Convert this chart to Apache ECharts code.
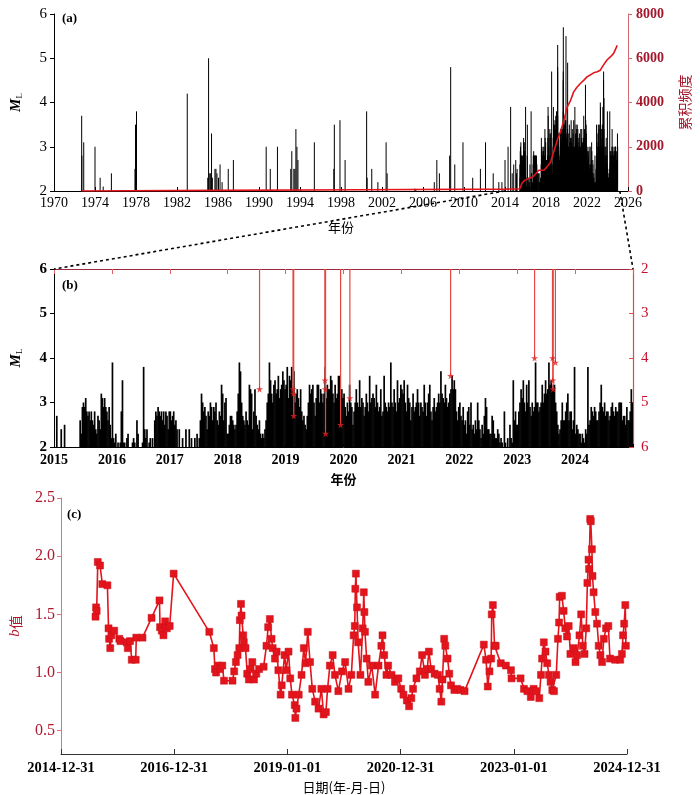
<!DOCTYPE html>
<html><head><meta charset="utf-8">
<script src="https://cdn.jsdelivr.net/npm/echarts@6/dist/echarts.min.js"></script>
<style>html,body{margin:0;padding:0;background:#fff}#c{width:700px;height:795px}</style>
</head><body><div id="c"></div>
<script>
// ---------- data ----------
const preYears=[1972.7,1972.72,1972.9,1974.0,1974.5,1974.8,1975.6,1977.9,1977.95,1978.0,1978.05,1983.0,1985.0,1985.08,1985.2,1985.25,1985.37,1985.45,1985.7,1985.8,1985.9,1986.05,1986.2,1986.4,1987.0,1987.5,1990.7,1991.1,1991.8,1993.1,1993.2,1993.4,1993.5,1993.6,1993.7,1993.8,1995.4,1997.3,1997.35,1997.9,1998.4,2000.5,2000.55,2001.0,2001.6,2002.4,2002.5,2005.2,2005.3,2007.1,2007.35,2007.6,2008.6,2008.7,2009.1,2009.9,2010.85,2011.6,2012.1,2012.85,2013.4,2013.7,2014.0,2014.3,2014.55,2014.7,2014.85];
const preMags=[3.7,2.8,3.1,3.0,2.3,2.1,2.4,2.5,3.5,2.4,3.8,4.2,2.3,5.0,2.4,2.4,3.3,2.3,2.5,2.5,2.4,2.3,2.6,2.2,2.5,2.7,3.0,2.5,3.0,2.5,2.9,2.5,2.5,3.4,3.0,2.7,3.1,2.5,3.5,3.6,2.7,3.8,2.3,2.5,2.2,3.1,2.4,2.05,2.05,2.2,2.7,2.4,2.8,4.8,2.6,3.1,2.3,2.5,3.1,2.4,2.2,2.2,2.7,3.0,3.9,2.4,2.6];

// weekly maximum magnitude (M<4), 52 weeks per year
const weekYears=[2015,2016,2017,2018,2019,2020,2021,2022,2023,2024];
const m2015=[null,null,2.7,null,null,null,2.4,null,null,2.5,null,null,null,null,null,null,null,null,null,null,null,null,null,2.6,2.3,2.9,3.0,2.9,3.1,2.8,2.7,2.8,2.6,2.8,2.6,2.5,2.8,2.4,2.3,2.7,2.6,2.4,3.2,3.1,2.9,3.1,2.9,2.8,2.6,2.9,2.5,2.2];
const m2016=[3.9,2.2,2.1,2.3,null,2.1,null,2.1,2.8,3.5,2.1,2.1,null,2.2,2.3,null,null,null,2.1,2.2,2.1,null,2.6,2.3,null,null,null,2.1,3.8,2.4,2.2,2.4,null,2.1,2.2,null,2.2,null,2.6,2.8,2.7,2.9,2.8,2.7,2.8,2.6,2.8,2.5,2.8,2.7,2.4,2.8];
const m2017=[2.8,2.6,2.7,2.8,2.5,2.6,2.4,null,2.4,null,null,2.2,null,null,2.4,null,null,2.4,null,2.2,null,null,2.2,null,2.3,null,2.2,2.6,3.2,3.0,2.8,2.9,2.7,2.4,2.8,2.7,3.0,2.9,2.6,2.9,2.8,3.0,2.6,2.5,2.8,2.7,3.4,3.2,2.6,3.0,3.1,2.3];
const m2018=[2.3,2.5,2.7,2.7,2.6,2.5,2.4,2.5,2.8,3.2,3.9,3.7,3.0,2.7,2.6,2.5,2.8,2.6,2.5,3.4,3.3,3.2,2.4,2.8,3.3,2.7,2.5,2.4,2.6,2.3,2.2,2.3,2.2,2.4,2.6,3.0,3.2,3.9,3.5,3.2,3.0,3.4,3.5,3.2,3.3,3.6,3.1,3.3,3.4,3.7,3.5,3.3];
const m2019=[3.4,3.8,3.1,3.6,3.5,3.8,3.3,3.7,3.0,3.2,3.3,3.1,2.9,3.3,2.8,2.6,2.7,2.5,2.4,2.7,3.0,3.4,3.2,3.3,3.4,3.0,2.7,3.1,3.4,3.4,3.0,3.3,3.2,3.0,3.2,3.8,3.1,3.4,3.3,3.3,3.6,3.5,3.2,3.0,3.4,3.1,3.2,3.6,3.6,3.0,3.3,3.1];
const m2020=[3.2,2.9,2.7,3.0,2.8,3.4,3.0,2.9,2.5,2.8,3.0,3.3,3.0,2.9,3.5,2.9,3.1,3.0,2.7,2.9,3.2,3.0,2.8,3.6,3.0,3.1,3.2,3.1,2.9,3.4,3.0,2.8,2.9,3.3,2.7,2.8,3.6,3.0,2.9,2.8,3.0,2.9,3.9,3.0,2.9,3.3,3.0,2.8,3.5,3.0,3.1,3.4];
const m2021=[3.3,3.2,3.5,3.0,2.8,3.4,3.1,3.0,2.6,2.9,3.2,2.8,2.9,3.0,3.3,3.0,2.7,3.0,2.9,2.8,3.4,3.0,2.7,3.0,3.2,3.4,2.8,2.6,2.9,3.1,2.8,2.9,3.0,3.2,3.0,3.7,3.2,3.1,3.0,3.4,3.1,2.9,3.0,3.2,3.3,3.6,3.3,3.5,3.3,2.8,2.6,2.9];
const m2022=[3.0,2.7,2.6,2.9,2.5,2.6,2.3,2.8,2.9,2.5,3.0,2.4,2.5,2.3,2.6,2.4,3.0,2.6,2.4,2.2,2.5,2.3,2.7,3.1,2.9,2.4,2.4,2.3,2.3,2.7,2.6,2.3,2.2,2.2,2.4,2.3,2.1,2.2,2.1,null,2.8,2.1,null,2.2,null,2.5,2.2,2.1,3.5,2.6,2.8,2.5];
const m2023=[2.5,2.8,3.0,3.3,3.1,3.5,3.0,2.8,3.4,3.0,3.5,2.9,2.7,3.0,2.8,2.9,3.9,3.0,3.0,2.8,2.9,3.0,3.4,3.0,3.2,3.5,3.2,3.3,3.9,3.4,3.5,3.3,3.4,3.4,3.0,2.8,2.5,2.3,2.4,2.6,3.0,2.6,2.6,2.8,3.0,3.2,2.6,2.8,2.8,2.4,2.6,3.8];
const m2024=[2.3,2.5,2.4,2.3,2.3,2.1,2.3,2.2,2.1,2.4,2.3,3.8,2.5,2.6,2.9,2.8,2.7,2.9,2.8,2.6,2.6,2.8,3.0,3.4,2.9,2.8,3.0,2.7,2.8,2.8,2.6,2.7,2.9,3.0,2.8,2.7,2.9,2.8,2.8,3.0,3.0,3.0,2.6,2.7,2.7,2.5,2.9,2.6,2.6,2.8,3.3,3.0];

// events with M>=4 (red in panel b)
const bigYears=[2018.55,2019.13,2019.135,2019.14,2019.68,2019.685,2019.69,2019.95,2020.11,2021.85,2023.30,2023.61,2023.615,2023.62,2023.66];
const bigMags=[4.7,4.7,4.8,5.3,4.5,4.7,5.7,5.5,4.9,4.4,4.0,4.0,4.5,4.7,4.1];

// cumulative frequency
const cumYears=[1972.7,1986.0,2000.0,2014.0,2015.45,2015.65,2015.9,2016.3,2016.7,2017.0,2017.3,2017.8,2018.1,2018.45,2018.8,2019.1,2019.4,2019.75,2020.07,2020.4,2020.7,2021.0,2021.35,2021.7,2022.0,2022.3,2022.65,2023.0,2023.3,2023.6,2023.95,2024.3,2024.6,2024.95];
const cumCounts=[0,30,55,85,100,350,480,560,630,780,935,935,1090,1310,1840,2290,2670,3200,3800,4100,4480,4680,4860,5010,5160,5240,5340,5390,5460,5690,5920,6070,6220,6580];

// b value
const bYears=[2015.61,2015.62,2015.63,2015.65,2015.69,2015.73,2015.82,2015.84,2015.85,2015.87,2015.89,2015.94,2016.03,2016.05,2016.16,2016.18,2016.22,2016.25,2016.32,2016.33,2016.44,2016.60,2016.74,2016.75,2016.78,2016.81,2016.84,2016.87,2016.92,2016.99,2017.62,2017.70,2017.72,2017.74,2017.77,2017.81,2017.85,2017.88,2018.03,2018.06,2018.09,2018.12,2018.15,2018.16,2018.18,2018.19,2018.22,2018.23,2018.26,2018.29,2018.32,2018.35,2018.38,2018.41,2018.45,2018.50,2018.58,2018.63,2018.66,2018.69,2018.72,2018.74,2018.78,2018.81,2018.84,2018.88,2018.90,2018.95,2018.98,2019.02,2019.05,2019.08,2019.13,2019.14,2019.16,2019.20,2019.25,2019.29,2019.32,2019.36,2019.40,2019.44,2019.49,2019.55,2019.60,2019.64,2019.68,2019.71,2019.75,2019.80,2019.84,2019.90,2019.965,2020.02,2020.08,2020.13,2020.17,2020.19,2020.20,2020.21,2020.23,2020.25,2020.29,2020.33,2020.35,2020.36,2020.37,2020.40,2020.43,2020.49,2020.55,2020.61,2020.66,2020.68,2020.71,2020.75,2020.78,2020.84,2020.90,2020.96,2021.01,2021.05,2021.11,2021.15,2021.19,2021.22,2021.28,2021.34,2021.38,2021.43,2021.47,2021.50,2021.54,2021.60,2021.66,2021.69,2021.72,2021.74,2021.77,2021.79,2021.83,2021.86,2021.89,2021.95,2022.00,2022.06,2022.13,2022.47,2022.51,2022.54,2022.57,2022.60,2022.61,2022.63,2022.66,2022.68,2022.77,2022.86,2022.95,2022.96,2023.12,2023.18,2023.24,2023.30,2023.35,2023.39,2023.45,2023.48,2023.50,2023.53,2023.56,2023.59,2023.62,2023.65,2023.68,2023.71,2023.75,2023.78,2023.80,2023.81,2023.85,2023.88,2023.91,2023.94,2023.97,2024.00,2024.06,2024.09,2024.12,2024.16,2024.19,2024.22,2024.25,2024.28,2024.30,2024.32,2024.33,2024.35,2024.36,2024.38,2024.39,2024.41,2024.44,2024.47,2024.50,2024.53,2024.56,2024.59,2024.63,2024.67,2024.70,2024.79,2024.88,2024.91,2024.93,2024.95,2024.97,2024.98];
const bVals=[1.48,1.56,1.53,1.95,1.92,1.76,1.75,1.38,1.29,1.21,1.32,1.36,1.29,1.27,1.26,1.21,1.27,1.11,1.11,1.30,1.30,1.47,1.62,1.39,1.36,1.32,1.44,1.38,1.40,1.85,1.35,1.21,1.03,1.00,1.06,1.03,1.06,0.93,0.93,1.01,1.09,1.15,1.21,1.45,1.59,1.49,1.32,1.26,1.21,0.99,0.94,1.03,1.09,0.94,0.99,1.03,1.05,1.23,1.39,1.46,1.29,1.21,1.12,1.18,1.02,0.81,0.89,1.15,1.02,1.18,0.95,0.81,0.72,0.61,0.69,0.81,0.98,1.21,1.08,1.35,1.09,0.86,0.75,0.69,0.86,0.64,0.66,0.86,1.06,1.15,0.98,0.84,1.01,1.09,0.86,0.98,1.32,1.40,1.72,1.85,1.56,1.26,0.98,1.38,1.69,1.52,1.35,1.12,0.92,1.06,0.81,1.06,1.23,1.32,1.15,0.98,1.06,0.98,0.92,0.95,0.86,0.81,0.76,0.71,0.78,0.86,0.95,1.01,1.15,0.98,1.03,1.18,1.03,0.99,0.98,0.86,0.75,0.94,1.29,1.23,1.12,0.99,0.89,0.85,0.86,0.85,0.84,1.24,1.11,0.88,1.01,1.12,1.50,1.58,1.23,1.23,1.08,1.06,1.02,0.95,0.95,0.86,0.84,0.79,0.86,0.84,0.78,0.98,1.12,1.26,1.18,1.08,0.98,0.92,0.85,0.84,0.98,1.29,1.43,1.65,1.66,1.53,1.38,1.31,1.40,1.16,1.21,1.09,1.15,1.32,1.50,1.23,1.16,1.38,1.77,1.97,1.89,2.32,2.30,2.06,1.83,1.69,1.52,1.42,1.23,1.15,1.09,1.29,1.38,1.40,1.12,1.11,1.11,1.16,1.32,1.42,1.58,1.23];

// tick labels of panel (c)
const cTickVals=[2015,2017,2019,2021,2023,2025];
const cTickLabels=['2014-12-31','2016-12-31','2019-01-01','2020-12-31','2023-01-01','2024-12-31'];

// ---------- build ----------
const weekly=[m2015,m2016,m2017,m2018,m2019,m2020,m2021,m2022,m2023,m2024];
const blackEv=[];
weekly.forEach((arr,i)=>arr.forEach((v,w)=>{ if(v!=null) blackEv.push([weekYears[i]+(w+0.5)/52, v]); }));
const preEv=preYears.map((y,i)=>[y,preMags[i]]);
const bigEv=bigYears.map((y,i)=>[y,bigMags[i]]);
const allEv=preEv.concat(blackEv,bigEv);
const cumData=cumYears.map((y,i)=>[y,cumCounts[i]]);
const bData=bYears.map((y,i)=>[y,bVals[i]]);

const SERIF="'Liberation Serif','DejaVu Serif','Noto Sans CJK SC',serif";
const CJK="'Noto Sans CJK SC','Liberation Serif',serif";
const STAR='path://M50,0 L61,35 L98,35 L68,57 L79,91 L50,70 L21,91 L32,57 L2,35 L39,35 Z';
const plain=v=>String(v);

function stems(data,xi,yi,color,base,lw,z){
  return {type:'custom',xAxisIndex:xi,yAxisIndex:yi,data:data,clip:true,silent:true,z:z||2,
    encode:{x:0,y:1},
    renderItem:function(params,api){
      const p1=api.coord([api.value(0),base]);
      const p2=api.coord([api.value(0),api.value(1)]);
      return {type:'line',shape:{x1:p1[0],y1:p1[1],x2:p1[0],y2:p2[1]},style:{stroke:color,lineWidth:lw}};
    }};
}

const chart=echarts.init(document.getElementById('c'),null,{renderer:'canvas'});
const ML={formatter:'{m|M}{s|L}',rich:{m:{fontFamily:SERIF,fontSize:15,fontWeight:'bold',fontStyle:'italic',color:'#000'},s:{fontFamily:SERIF,fontSize:9,color:'#000',padding:[7,0,0,0]}}};

const option={
  animation:false,
  backgroundColor:'#fff',
  grid:[
    {left:54,right:68,top:14,height:177},
    {left:54,right:67,top:269,height:178},
    {left:57,right:73,top:498,height:259}
  ],
  xAxis:[
    {gridIndex:0,type:'value',min:1970,max:2026,interval:4,position:'bottom',
     axisLine:{lineStyle:{color:'#000',width:1}},axisTick:{inside:true,length:4,lineStyle:{color:'#000'}},
     axisLabel:{color:'#000',fontFamily:SERIF,fontSize:14,margin:5,formatter:plain},splitLine:{show:false},
     name:'年份',nameLocation:'middle',nameGap:30,nameTextStyle:{fontFamily:CJK,fontSize:13,color:'#000'}},
    {gridIndex:1,type:'value',min:2015,max:2025,interval:1,position:'bottom',
     axisLine:{lineStyle:{color:'#000',width:1}},axisTick:{inside:true,length:3,lineStyle:{color:'#000'}},
     axisLabel:{color:'#000',fontFamily:SERIF,fontSize:14,fontWeight:'bold',margin:6,formatter:v=>v===2025?'':String(v)},splitLine:{show:false},
     name:'年份',nameLocation:'middle',nameGap:26,nameTextStyle:{fontFamily:CJK,fontSize:13,fontWeight:'bold',color:'#000'}},
    {gridIndex:1,type:'value',min:2015,max:2025,interval:1,position:'top',
     axisLine:{lineStyle:{color:'#9a2a40',width:1.2}},axisTick:{inside:true,length:5,lineStyle:{color:'#e0606a'}},
     axisLabel:{show:false},splitLine:{show:false}},
    {gridIndex:2,type:'value',min:2015,max:2025,interval:2,position:'bottom',
     axisLine:{lineStyle:{color:'#333',width:1}},axisTick:{inside:true,length:5,lineStyle:{color:'#333'}},
     axisLabel:{color:'#000',fontFamily:SERIF,fontSize:14.5,fontWeight:'bold',margin:7,
       formatter:v=>{const k=cTickVals.indexOf(v);return k>=0?cTickLabels[k]:'';}},
     splitLine:{show:false},
     name:'日期(年-月-日)',nameLocation:'middle',nameGap:27,nameTextStyle:{fontFamily:CJK,fontSize:13,color:'#000'}}
  ],
  yAxis:[
    {gridIndex:0,type:'value',min:2,max:6,interval:1,position:'left',
     axisLine:{show:true,lineStyle:{color:'#000'}},axisTick:{show:true,length:4,lineStyle:{color:'#000'}},
     axisLabel:{color:'#000',fontFamily:SERIF,fontSize:15,margin:7,formatter:plain},splitLine:{show:false},
     name:ML.formatter,nameLocation:'middle',nameGap:30,nameRotate:90,nameTextStyle:{rich:ML.rich}},
    {gridIndex:0,type:'value',min:0,max:8000,interval:2000,position:'right',
     axisLine:{show:true,lineStyle:{color:'#d36a72'}},axisTick:{show:true,length:4,lineStyle:{color:'#d36a72'}},
     axisLabel:{color:'#a3162b',fontFamily:SERIF,fontSize:14,fontWeight:'bold',margin:8,formatter:plain},splitLine:{show:false},
     name:'累积频度',nameLocation:'middle',nameGap:50,nameRotate:90,nameTextStyle:{fontFamily:CJK,fontSize:14,color:'#a3162b'}},
    {gridIndex:1,type:'value',min:2,max:6,interval:1,position:'left',
     axisLine:{show:true,lineStyle:{color:'#000'}},axisTick:{show:true,length:4,lineStyle:{color:'#000'}},
     axisLabel:{color:'#000',fontFamily:SERIF,fontSize:15,fontWeight:'bold',margin:7,formatter:plain},splitLine:{show:false},
     name:ML.formatter,nameLocation:'middle',nameGap:30,nameRotate:90,nameTextStyle:{rich:ML.rich}},
    {gridIndex:1,type:'value',min:2,max:6,interval:1,inverse:true,position:'right',
     axisLine:{show:true,lineStyle:{color:'#e04848',width:1.2}},axisTick:{show:true,inside:true,length:4,lineStyle:{color:'#e04848'}},
     axisLabel:{color:'#c8102e',fontFamily:SERIF,fontSize:15,margin:8,formatter:plain},splitLine:{show:false}},
    {gridIndex:2,type:'value',min:0.3,max:2.5,position:'left',
     axisLine:{show:true,lineStyle:{color:'#e07080'}},
     axisTick:{show:true,length:4,customValues:[0.5,1,1.5,2,2.5],lineStyle:{color:'#e07080'}},
     axisLabel:{color:'#b0182c',fontFamily:SERIF,fontSize:16,margin:6,customValues:[0.5,1,1.5,2,2.5],formatter:v=>v.toFixed(1)},
     splitLine:{show:false},
     name:'{i|b}{n|值}',nameLocation:'middle',nameGap:38,nameRotate:90,
     nameTextStyle:{rich:{i:{fontFamily:SERIF,fontStyle:'italic',fontSize:15,color:'#b0182c'},n:{fontFamily:CJK,fontSize:14,color:'#b0182c'}}}}
  ],
  series:[
    stems(allEv,0,0,'#000',2,1,2),
    {type:'line',xAxisIndex:0,yAxisIndex:1,data:cumData,showSymbol:false,symbol:'none',z:5,
     lineStyle:{color:'#e3141b',width:1.6},silent:true},
    stems(blackEv,1,2,'#000',2,1.7,2),
    stems(bigEv,1,3,'#e8473f',2,1.2,3),
    {type:'scatter',xAxisIndex:1,yAxisIndex:3,data:bigEv,symbol:STAR,symbolSize:7,z:6,
     itemStyle:{color:'#e02020'},silent:true},
    {type:'line',xAxisIndex:3,yAxisIndex:4,data:bData,symbol:'rect',symbolSize:7,showSymbol:true,showAllSymbol:true,
     lineStyle:{color:'#e3141b',width:1.6},itemStyle:{color:'#e3141b',borderColor:'#c8101a',borderWidth:0.5},silent:true}
  ],
  graphic:[
    {type:'text',left:62,top:12,style:{text:'(a)',font:"bold 13px 'Liberation Serif'",fill:'#000'}},
    {type:'text',left:62,top:279,style:{text:'(b)',font:"bold 13px 'Liberation Serif'",fill:'#000'}},
    {type:'text',left:67,top:508,style:{text:'(c)',font:"bold 13px 'Liberation Serif'",fill:'#000'}}
  ]
};
chart.setOption(option);

// zoom connector lines, positioned from axis coordinates
const pa1=chart.convertToPixel({xAxisIndex:0,yAxisIndex:0},[2014,2]);
const pb1=chart.convertToPixel({xAxisIndex:1,yAxisIndex:2},[2015,6]);
const pa2=chart.convertToPixel({xAxisIndex:0,yAxisIndex:0},[2025.2,2]);
const pb2=chart.convertToPixel({xAxisIndex:1,yAxisIndex:2},[2025,6]);
chart.setOption({graphic:option.graphic.concat([
  {type:'line',shape:{x1:pa1[0],y1:pa1[1],x2:pb1[0],y2:pb1[1]},style:{stroke:'#000',lineWidth:1.6,lineDash:[3,3]},z:10},
  {type:'line',shape:{x1:pa2[0],y1:pa2[1],x2:pb2[0],y2:pb2[1]},style:{stroke:'#000',lineWidth:1.6,lineDash:[3,3]},z:10}
])});
</script>
</body></html>
